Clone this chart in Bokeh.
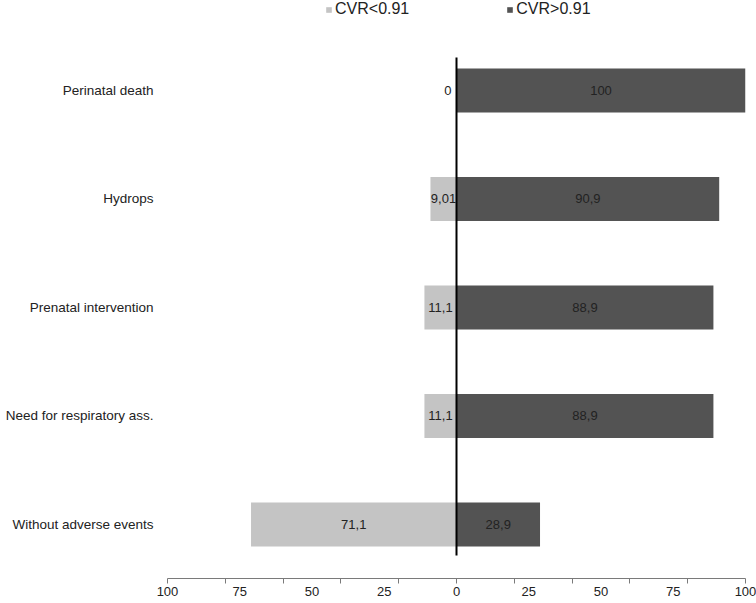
from bokeh.plotting import figure
from bokeh.models import (ColumnDataSource, Range1d, LinearAxis, FixedTicker,
                          CustomJSTickFormatter, Legend, LegendItem)
from bokeh.core.properties import value
from bokeh.embed import file_html
from bokeh.resources import INLINE

# ---- data ----
categories = ["Perinatal death", "Hydrops", "Prenatal intervention",
              "Need for respiratory ass.", "Without adverse events"]
cvr_low = [0, 9.01, 11.1, 11.1, 71.1]     # CVR<0.91 (drawn to the left)
cvr_high = [100, 90.9, 88.9, 88.9, 28.9]  # CVR>0.91 (drawn to the right)
x_tick_labels = [-100, -75, -50, -25, 0, 25, 50, 75, 100]
x_minor_ticks = [-100, -80, -60, -40, -20, 0, 20, 40, 60, 80, 100]

LIGHT = "#c4c4c4"
DARK = "#535353"
TXT = "#222222"
FONT = "Liberation Sans"

n = len(categories)
ypos = [n - 1 - i for i in range(n)]

def fmt(v):
    return f"{v:g}".replace(".", ",")

src = ColumnDataSource(dict(
    y=ypos,
    low=[-v for v in cvr_low],
    high=cvr_high,
    low_lab=[fmt(v) for v in cvr_low],
    high_lab=[fmt(v) for v in cvr_high],
    low_x=[-max(v / 2, 3) for v in cvr_low],
    high_x=[v / 2 for v in cvr_high],
))

W, H = 756, 603
MB = 25
frame_h = H - MB

p = figure(width=W, height=H, output_backend="svg", toolbar_location=None,
           x_range=Range1d(-100, 100),
           y_range=Range1d(-0.498, n - 1 + 0.829),
           min_border_left=167, min_border_right=11, min_border_top=0,
           min_border_bottom=MB, x_axis_location=None, y_axis_location=None)
p.outline_line_color = None
p.xgrid.visible = False
p.ygrid.visible = False
p.background_fill_color = "white"
p.border_fill_color = "white"

bar_h = 0.406
r_low = p.hbar(y="y", left="low", right=0, height=bar_h, source=src,
               fill_color=LIGHT, line_color=None)
r_high = p.hbar(y="y", left=0, right="high", height=bar_h, source=src,
                fill_color=DARK, line_color=None)

# zero line
p.segment(x0=0, x1=0, y0=min(ypos) - 0.286, y1=max(ypos) + 0.304,
          line_color="black", line_width=2)

# value labels
p.text(x="low_x", y="y", text="low_lab", source=src, text_align="center",
       text_baseline="middle", text_font=value(FONT), text_font_size="13px",
       text_color=TXT)
p.text(x="high_x", y="y", text="high_lab", source=src, text_align="center",
       text_baseline="middle", text_font=value(FONT), text_font_size="13px",
       text_color=TXT)

# x axis
xaxis = LinearAxis(bounds=(-100, 100),
                   ticker=FixedTicker(ticks=x_tick_labels, minor_ticks=x_minor_ticks),
                   formatter=CustomJSTickFormatter(code="return Math.abs(tick).toString();"))
xaxis.axis_line_color = "#7a7a7a"
xaxis.axis_line_width = 1
xaxis.major_tick_line_color = None
xaxis.major_tick_out = 0
xaxis.major_tick_in = 0
xaxis.minor_tick_line_color = "#7a7a7a"
xaxis.minor_tick_out = 5
xaxis.minor_tick_in = 0
xaxis.major_label_standoff = 3
xaxis.major_label_text_font = FONT
xaxis.major_label_text_font_size = "13px"
xaxis.major_label_text_color = TXT
p.add_layout(xaxis, "below")

# y axis (category labels)
yaxis = LinearAxis(ticker=FixedTicker(ticks=ypos, minor_ticks=[]),
                   major_label_overrides={y: c for y, c in zip(ypos, categories)})
yaxis.axis_line_color = None
yaxis.major_tick_line_color = None
yaxis.minor_tick_line_color = None
yaxis.major_tick_out = 0
yaxis.major_tick_in = 0
yaxis.major_label_standoff = 14
yaxis.major_label_text_font = FONT
yaxis.major_label_text_font_size = "13.5px"
yaxis.major_label_text_color = TXT
p.add_layout(yaxis, "left")

leg_h = 18
legend = Legend(items=[LegendItem(label="CVR<0.91", renderers=[r_low]),
                       LegendItem(label="CVR>0.91", renderers=[r_high])],
                orientation="horizontal", location=(158, frame_h - leg_h),
                glyph_width=7, glyph_height=7, label_height=leg_h,
                label_standoff=3, spacing=97, padding=0, margin=0,
                border_line_color=None, background_fill_alpha=0,
                label_text_font=FONT, label_text_font_size="16px",
                label_text_color=TXT)
p.add_layout(legend, "center")

open("out.html", "w").write(file_html(p, INLINE))
